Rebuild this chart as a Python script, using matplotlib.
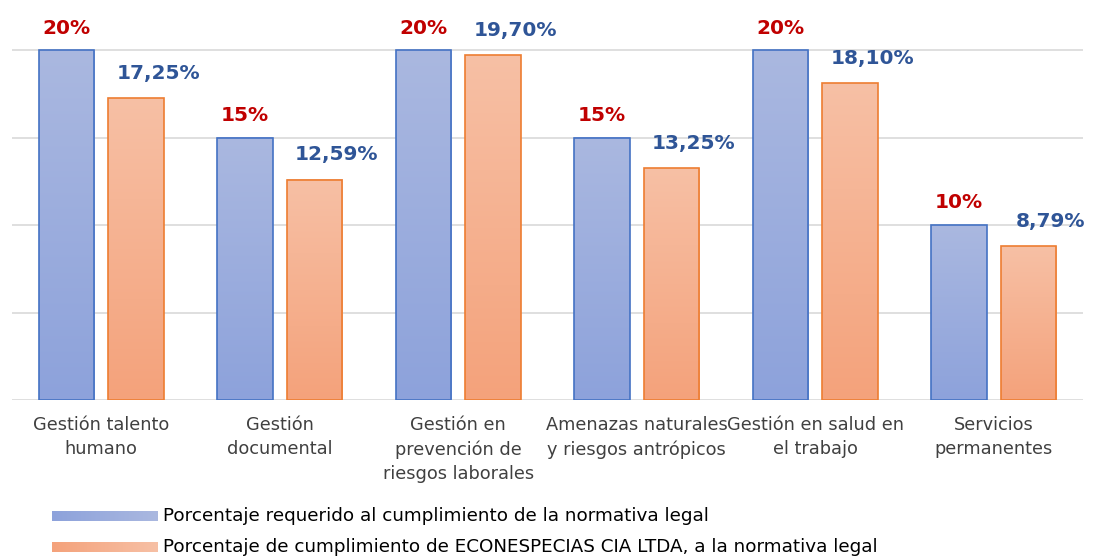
import numpy as np
import matplotlib
matplotlib.use("Agg")
import matplotlib.pyplot as plt
from matplotlib.colors import LinearSegmentedColormap

# --- datos ---
categorias = ["Gestión talento\nhumano", "Gestión\ndocumental",
              "Gestión en\nprevención de\nriesgos laborales",
              "Amenazas naturales\ny riesgos antrópicos",
              "Gestión en salud en\nel trabajo", "Servicios\npermanentes"]
requerido = [20, 15, 20, 15, 20, 10]
cumplimiento = [17.25, 12.59, 19.70, 13.25, 18.10, 8.79]
etiq_req = ["20%", "15%", "20%", "15%", "20%", "10%"]
etiq_cum = ["17,25%", "12,59%", "19,70%", "13,25%", "18,10%", "8,79%"]
leyenda = ["Porcentaje requerido al cumplimiento de la normativa legal",
           "Porcentaje de cumplimiento de ECONESPECIAS CIA LTDA, a la normativa legal"]

# --- colores ---
azul_cm = LinearSegmentedColormap.from_list("az", ["#8DA2DB", "#AAB8E0"])
naranja_cm = LinearSegmentedColormap.from_list("na", ["#F4A27B", "#F7C0A5"])
borde_azul = "#4472C4"
borde_naranja = "#ED7D31"

fig = plt.figure(figsize=(10.94, 5.57), dpi=100)
ax = fig.add_axes([12 / 1094, 1 - 400 / 557, 1071 / 1094, 399 / 557])

x = np.arange(len(categorias))
ancho = 0.31
desp = 0.195

b1 = ax.bar(x - desp, requerido, ancho, facecolor="none", edgecolor=borde_azul, linewidth=1.2, zorder=3)
b2 = ax.bar(x + desp, cumplimiento, ancho, facecolor="none", edgecolor=borde_naranja, linewidth=1.2, zorder=3)

# relleno degradado dentro de cada barra
grad = np.linspace(0, 1, 256).reshape(-1, 1)
for barras, cm in ((b1, azul_cm), (b2, naranja_cm)):
    for r in barras:
        x0, y0 = r.get_x(), r.get_y()
        ax.imshow(grad, extent=(x0, x0 + r.get_width(), y0, y0 + r.get_height()),
                  origin="lower", cmap=cm, aspect="auto", zorder=2)

ax.set_xlim(-0.5, len(categorias) - 0.5)
ax.set_ylim(0, 22.8)
ax.set_yticks([0, 5, 10, 15, 20])
ax.grid(axis="y", color="#D9D9D9", linewidth=1.2, zorder=0)
ax.set_axisbelow(True)
for s in ax.spines.values():
    s.set_visible(False)
ax.tick_params(left=False, bottom=False, labelleft=False)
ax.set_xticks(x)
ax.set_xticklabels(categorias, fontsize=12.8, color="#404040", linespacing=1.45)
ax.tick_params(axis="x", pad=8)

for r, t in zip(b1, etiq_req):
    ax.annotate(t, (r.get_x() + r.get_width() / 2, r.get_height()), xytext=(0, 9),
                textcoords="offset points", ha="center", va="bottom",
                fontsize=14.5, fontweight="bold", color="#C00000")
for r, t in zip(b2, etiq_cum):
    ax.annotate(t, (r.get_x() + r.get_width() / 2, r.get_height()), xytext=(16, 11),
                textcoords="offset points", ha="center", va="bottom",
                fontsize=14.5, fontweight="bold", color="#2F5597")

# --- leyenda ---
for i, (texto, cm) in enumerate(zip(leyenda, (azul_cm, naranja_cm))):
    yc = 516 + i * 31
    lax = fig.add_axes([52 / 1094, 1 - (yc + 5) / 557, 106 / 1094, 10 / 557])
    lax.imshow(np.linspace(0, 1, 256).reshape(1, -1), cmap=cm, aspect="auto")
    lax.axis("off")
    fig.text(163 / 1094, 1 - yc / 557, texto, fontsize=13.2, color="#000000", va="center")

fig.savefig("out.png", dpi=100)
